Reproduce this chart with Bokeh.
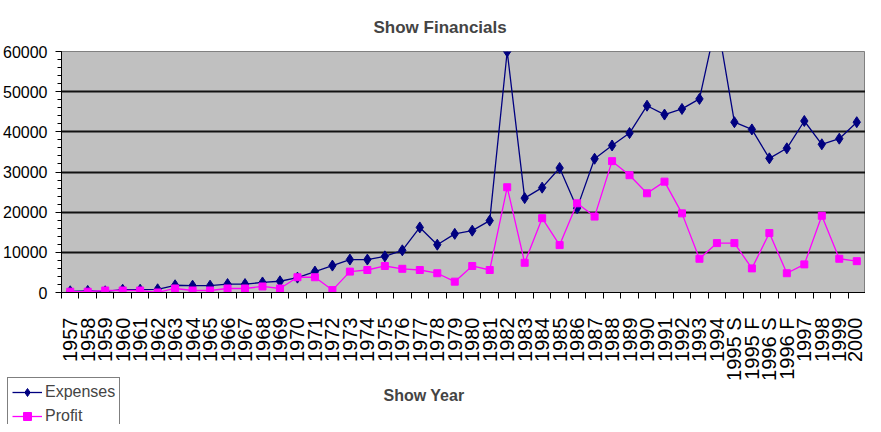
import math
from bokeh.plotting import figure
from bokeh.layouts import column
from bokeh.models import (FactorRange, Range1d, LinearAxis, CategoricalAxis, FixedTicker,
                          SingleIntervalTicker, Title, Legend, LegendItem, ColumnDataSource,
                          Plot, Line, Scatter, CategoricalScale, LinearScale)
from bokeh.embed import file_html
from bokeh.resources import INLINE

years = [str(y) for y in range(1957, 1995)] + ["1995 S", "1995 F", "1996 S", "1996 F",
                                               "1997", "1998", "1999", "2000"]

expenses = [300, 400, 300, 700, 700, 800, 1800, 1700, 1700, 2100, 2100, 2500, 2800, 3700,
            5200, 6700, 8200, 8200, 9000, 10500, 16200, 11900, 14600, 15400, 17900, 60000,
            23500, 26100, 31000, 21000, 33300, 36600, 39700, 46500, 44300, 45700, 48200, 68000,
            42400, 40600, 33400, 35900, 42700, 36900, 38300, 42400]

profit = [200, 200, 500, 500, 500, 0, 1000, 500, 500, 1000, 1000, 1500, 1000, 3800,
          3800, 600, 5200, 5600, 6600, 5900, 5600, 4800, 2700, 6600, 5600, 26200,
          7400, 18500, 11800, 22200, 18900, 32700, 29200, 24700, 27600, 19700, 8400, 12300,
          12300, 6000, 14800, 4800, 7000, 19100, 8400, 7800]

y_ticks_interval = 10000

FONT = "Liberation Sans"
EXP_COLOR = "#000080"
PRO_COLOR = "#FF00FF"

src = ColumnDataSource(dict(year=years, expenses=expenses, profit=profit))

p = figure(x_range=FactorRange(*years), y_range=Range1d(0, 60000),
           width=865, height=416, output_backend="svg", toolbar_location=None,
           x_axis_location=None,
           min_border_left=58, min_border_right=0, min_border_top=49, min_border_bottom=124)

p.background_fill_color = "#C0C0C0"
p.border_fill_color = "white"
p.outline_line_color = "#808080"
p.outline_line_width = 1

# Y axis
ya = p.yaxis[0]
ya.ticker = SingleIntervalTicker(interval=y_ticks_interval, num_minor_ticks=5)
ya.axis_line_color = "black"
ya.major_tick_out = 6
ya.major_tick_in = 0
ya.minor_tick_out = 4
ya.minor_tick_in = 0
ya.major_tick_line_color = "black"
ya.minor_tick_line_color = "black"
ya.major_label_text_font = FONT
ya.major_label_text_font_size = "16px"
ya.major_label_text_color = "black"
ya.major_label_standoff = 8

p.ygrid.grid_line_color = "#111111"
p.ygrid.grid_line_width = 2
p.ygrid.ticker = ya.ticker
p.xgrid.visible = False

# boundary ticks axis (between categories)
tick_axis = LinearAxis(ticker=FixedTicker(ticks=list(range(len(years) + 1)), minor_ticks=[]))
tick_axis.axis_line_color = "black"
tick_axis.major_tick_line_color = "black"
tick_axis.major_tick_out = 6
tick_axis.major_tick_in = 0
tick_axis.major_label_text_font_size = "1px"
tick_axis.major_label_text_alpha = 0
tick_axis.major_label_standoff = 0
p.add_layout(tick_axis, "below")

cat_axis = CategoricalAxis()
cat_axis.axis_line_color = None
cat_axis.major_tick_line_color = None
cat_axis.major_label_orientation = math.pi / 2
cat_axis.major_label_text_font = FONT
cat_axis.major_label_text_font_size = "20px"
cat_axis.major_label_text_color = "black"
cat_axis.major_label_standoff = 13
p.add_layout(cat_axis, "below")

xt = Title(text="Show Year", align="left", offset=322, text_font=FONT,
           text_font_size="16px", text_font_style="bold", standoff=3)
p.add_layout(xt, "below")

p.title.text = "Show Financials"
p.title.align = "left"
p.title.offset = 312
p.title.text_font = FONT
p.title.text_font_size = "17px"
p.title.text_font_style = "bold"
p.title.standoff = 30

p.line("year", "expenses", source=src, line_color=EXP_COLOR, line_width=1.3)
p.scatter("year", "expenses", source=src, marker="diamond", size=11,
          fill_color=EXP_COLOR, line_color=EXP_COLOR)
p.line("year", "profit", source=src, line_color=PRO_COLOR, line_width=1.3)
p.scatter("year", "profit", source=src, marker="square", size=7,
          fill_color=PRO_COLOR, line_color=PRO_COLOR)

# transparent overlay strip carrying the legend at the bottom-left corner of the chart
q = Plot(width=865, height=47, x_range=FactorRange(*years), y_range=Range1d(-2, -1),
         x_scale=CategoricalScale(), y_scale=LinearScale(),
         output_backend="svg", toolbar_location=None, min_border=0,
         outline_line_color=None, border_fill_color=None, background_fill_color=None)
q.margin = (-39, 0, 0, -54)
ql1 = q.add_glyph(src, Line(x="year", y="expenses", line_color=EXP_COLOR, line_width=1.3))
qs1 = q.add_glyph(src, Scatter(x="year", y="expenses", marker="diamond", size=11,
                               fill_color=EXP_COLOR, line_color=EXP_COLOR))
ql2 = q.add_glyph(src, Line(x="year", y="profit", line_color=PRO_COLOR, line_width=1.3))
qs2 = q.add_glyph(src, Scatter(x="year", y="profit", marker="square", size=7,
                               fill_color=PRO_COLOR, line_color=PRO_COLOR))

legend = Legend(items=[LegendItem(label="Expenses", renderers=[ql1, qs1]),
                       LegendItem(label="Profit", renderers=[ql2, qs2])],
                location="top_left")
legend.label_text_font = FONT
legend.label_text_font_size = "16px"
legend.glyph_width = 30
legend.glyph_height = 20
legend.label_height = 20
legend.label_standoff = 3
legend.spacing = 4
legend.padding = 4
legend.margin = 0
legend.border_line_color = "black"
legend.border_line_width = 1
legend.background_fill_color = "white"
legend.background_fill_alpha = 1
q.add_layout(legend, "center")

layout = column(p, q, spacing=0)
open("out.html", "w").write(file_html(layout, INLINE))
